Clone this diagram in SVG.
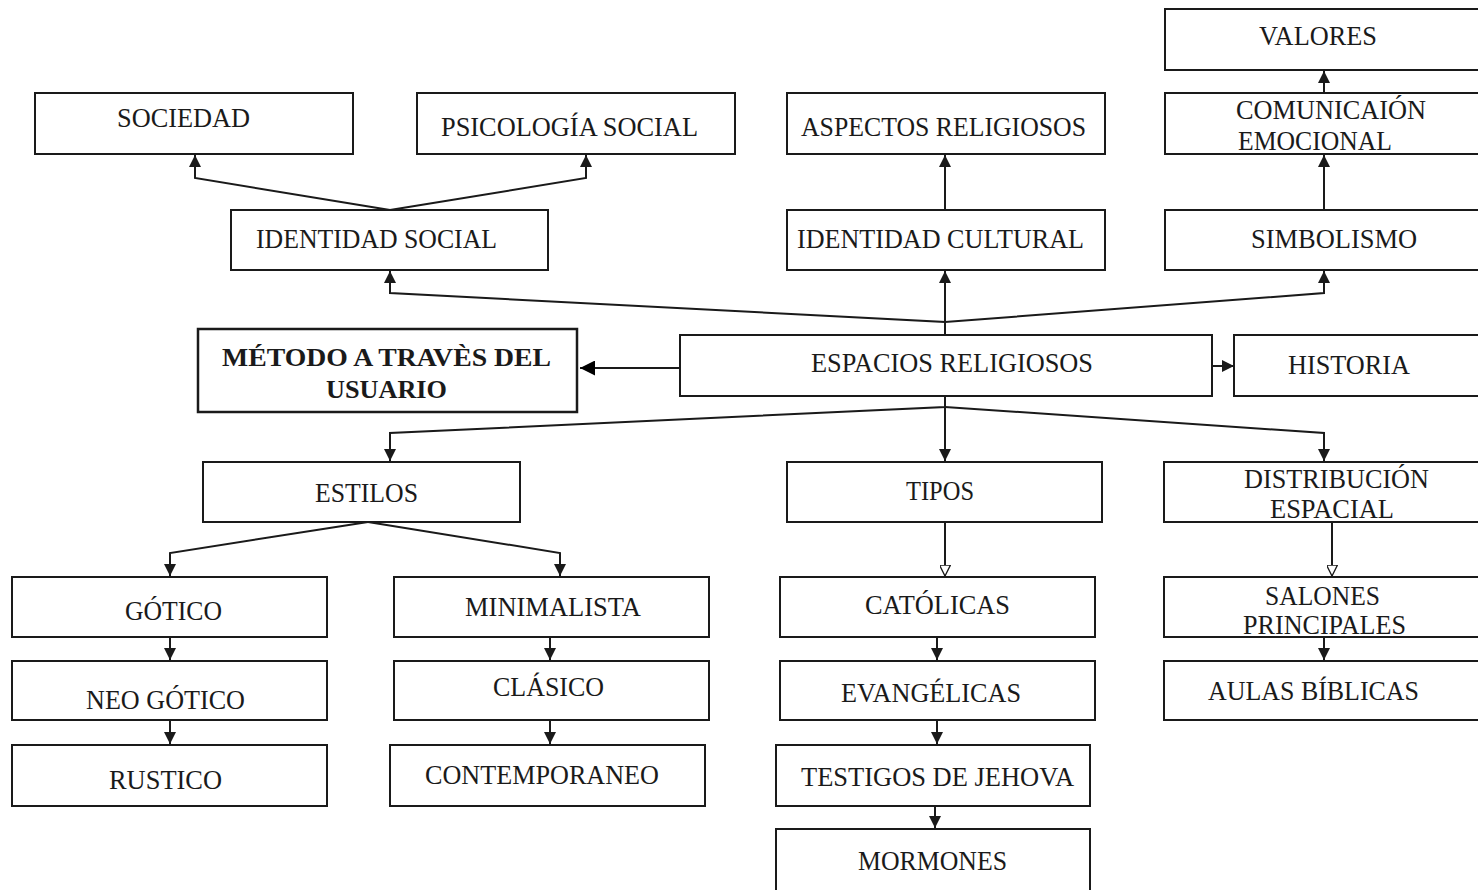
<svg xmlns="http://www.w3.org/2000/svg" width="1478" height="890" viewBox="0 0 1478 890">
<style>
.box{fill:#fff;stroke:#1a1a1a;stroke-width:2}
.bold{stroke-width:2.5}
text{font-family:"Liberation Serif","Times New Roman",serif;font-size:27px;fill:#1a1a1a}
.b{font-weight:bold;font-size:26px}
.c{fill:none;stroke:#1a1a1a;stroke-width:2}
</style>
<defs>
<marker id="a" viewBox="0 0 10 10" refX="10" refY="5" markerWidth="12" markerHeight="12" markerUnits="userSpaceOnUse" orient="auto"><path d="M0,0 L10,5 L0,10 z" fill="#1a1a1a"/></marker>
<marker id="h" viewBox="0 0 10 10" refX="10" refY="5" markerWidth="11" markerHeight="11" markerUnits="userSpaceOnUse" orient="auto"><path d="M0,0 L10,5 L0,10 z" fill="#fff" stroke="#1a1a1a" stroke-width="1.2"/></marker>
<marker id="big" viewBox="0 0 10 10" refX="10" refY="5" markerWidth="15" markerHeight="15" markerUnits="userSpaceOnUse" orient="auto"><path d="M0,0 L10,5 L0,10 z" fill="#000"/></marker>
</defs>
<rect width="1478" height="890" fill="#fff"/>
<g id="connectors">
<path class="c" d="M390,210 L195,178 L195,155" marker-end="url(#a)"/>
<path class="c" d="M390,210 L586,178 L586,155" marker-end="url(#a)"/>
<path class="c" d="M945,335 L945,322 L390,293 L390,271" marker-end="url(#a)"/>
<path class="c" d="M945,322 L945,271" marker-end="url(#a)"/>
<path class="c" d="M945,322 L1324,293 L1324,271" marker-end="url(#a)"/>
<path class="c" d="M945,210 L945,155" marker-end="url(#a)"/>
<path class="c" d="M1324,210 L1324,155" marker-end="url(#a)"/>
<path class="c" d="M1324,93 L1324,71" marker-end="url(#a)"/>
<path class="c" d="M680,368 L580,368" stroke-width="2.5" marker-end="url(#big)"/>
<path class="c" d="M1212,366 L1234,366" marker-end="url(#a)"/>
<path class="c" d="M945,396 L945,407 L390,433 L390,461" marker-end="url(#a)"/>
<path class="c" d="M945,407 L945,461" marker-end="url(#a)"/>
<path class="c" d="M945,407 L1324,433 L1324,461" marker-end="url(#a)"/>
<path class="c" d="M368,522 L170,553 L170,576" marker-end="url(#a)"/>
<path class="c" d="M368,522 L560,553 L560,576" marker-end="url(#a)"/>
<path class="c" d="M170,637 L170,660" marker-end="url(#a)"/>
<path class="c" d="M170,720 L170,744" marker-end="url(#a)"/>
<path class="c" d="M550,637 L550,660" marker-end="url(#a)"/>
<path class="c" d="M550,720 L550,744" marker-end="url(#a)"/>
<path class="c" d="M945,522 L945,576" stroke-width="1.5" marker-end="url(#h)"/>
<path class="c" d="M1332,522 L1332,576" stroke-width="1.5" marker-end="url(#h)"/>
<path class="c" d="M937,637 L937,660" marker-end="url(#a)"/>
<path class="c" d="M937,720 L937,744" marker-end="url(#a)"/>
<path class="c" d="M935,806 L935,828" marker-end="url(#a)"/>
<path class="c" d="M1324,637 L1324,660" marker-end="url(#a)"/>
</g>
<g id="n-sociedad"><rect class="box" x="35" y="93" width="318" height="61"/><text x="117" y="127" textLength="133" lengthAdjust="spacingAndGlyphs">SOCIEDAD</text></g>
<g id="n-psicologia"><rect class="box" x="417" y="93" width="318" height="61"/><text x="441" y="136" textLength="257" lengthAdjust="spacingAndGlyphs">PSICOLOGÍA SOCIAL</text></g>
<g id="n-aspectos"><rect class="box" x="787" y="93" width="318" height="61"/><text x="801" y="136" textLength="285" lengthAdjust="spacingAndGlyphs">ASPECTOS RELIGIOSOS</text></g>
<g id="n-valores"><rect class="box" x="1165" y="9" width="330" height="61"/><text x="1259" y="45" textLength="118" lengthAdjust="spacingAndGlyphs">VALORES</text></g>
<g id="n-comunicacion"><rect class="box" x="1165" y="93" width="330" height="61"/><text x="1236" y="119" textLength="190" lengthAdjust="spacingAndGlyphs">COMUNICAIÓN</text><text x="1238" y="150" textLength="154" lengthAdjust="spacingAndGlyphs">EMOCIONAL</text></g>
<g id="n-identidad-social"><rect class="box" x="231" y="210" width="317" height="60"/><text x="256" y="248" textLength="241" lengthAdjust="spacingAndGlyphs">IDENTIDAD SOCIAL</text></g>
<g id="n-identidad-cultural"><rect class="box" x="787" y="210" width="318" height="60"/><text x="797" y="248" textLength="287" lengthAdjust="spacingAndGlyphs">IDENTIDAD CULTURAL</text></g>
<g id="n-simbolismo"><rect class="box" x="1165" y="210" width="330" height="60"/><text x="1251" y="248" textLength="166" lengthAdjust="spacingAndGlyphs">SIMBOLISMO</text></g>
<g id="n-metodo"><rect class="box bold" x="198" y="329" width="379" height="83"/><text class="b" x="222" y="366" textLength="329" lengthAdjust="spacingAndGlyphs">MÉTODO A TRAVÈS  DEL</text><text class="b" x="326" y="398" textLength="121" lengthAdjust="spacingAndGlyphs">USUARIO</text></g>
<g id="n-espacios"><rect class="box" x="680" y="335" width="532" height="61"/><text x="811" y="372" textLength="282" lengthAdjust="spacingAndGlyphs">ESPACIOS RELIGIOSOS</text></g>
<g id="n-historia"><rect class="box" x="1234" y="335" width="260" height="61"/><text x="1288" y="374" textLength="122" lengthAdjust="spacingAndGlyphs">HISTORIA</text></g>
<g id="n-estilos"><rect class="box" x="203" y="462" width="317" height="60"/><text x="315" y="502" textLength="103" lengthAdjust="spacingAndGlyphs">ESTILOS</text></g>
<g id="n-tipos"><rect class="box" x="787" y="462" width="315" height="60"/><text x="906" y="500" textLength="68" lengthAdjust="spacingAndGlyphs">TIPOS</text></g>
<g id="n-distribucion"><rect class="box" x="1164" y="462" width="330" height="60"/><text x="1244" y="488" textLength="185" lengthAdjust="spacingAndGlyphs">DISTRIBUCIÓN</text><text x="1270" y="518" textLength="124" lengthAdjust="spacingAndGlyphs">ESPACIAL</text></g>
<g id="n-gotico"><rect class="box" x="12" y="577" width="315" height="60"/><text x="125" y="620" textLength="97" lengthAdjust="spacingAndGlyphs">GÓTICO</text></g>
<g id="n-minimalista"><rect class="box" x="394" y="577" width="315" height="60"/><text x="465" y="616" textLength="176" lengthAdjust="spacingAndGlyphs">MINIMALISTA</text></g>
<g id="n-catolicas"><rect class="box" x="780" y="577" width="315" height="60"/><text x="865" y="614" textLength="145" lengthAdjust="spacingAndGlyphs">CATÓLICAS</text></g>
<g id="n-salones"><rect class="box" x="1164" y="577" width="330" height="60"/><text x="1265" y="605" textLength="115" lengthAdjust="spacingAndGlyphs">SALONES</text><text x="1243" y="634" textLength="163" lengthAdjust="spacingAndGlyphs">PRINCIPALES</text></g>
<g id="n-neogotico"><rect class="box" x="12" y="661" width="315" height="59"/><text x="86" y="709" textLength="159" lengthAdjust="spacingAndGlyphs">NEO GÓTICO</text></g>
<g id="n-clasico"><rect class="box" x="394" y="661" width="315" height="59"/><text x="493" y="696" textLength="111" lengthAdjust="spacingAndGlyphs">CLÁSICO</text></g>
<g id="n-evangelicas"><rect class="box" x="780" y="661" width="315" height="59"/><text x="841" y="702" textLength="180" lengthAdjust="spacingAndGlyphs">EVANGÉLICAS</text></g>
<g id="n-aulas"><rect class="box" x="1164" y="661" width="330" height="59"/><text x="1208" y="700" textLength="211" lengthAdjust="spacingAndGlyphs">AULAS BÍBLICAS</text></g>
<g id="n-rustico"><rect class="box" x="12" y="745" width="315" height="61"/><text x="109" y="789" textLength="113" lengthAdjust="spacingAndGlyphs">RUSTICO</text></g>
<g id="n-contemporaneo"><rect class="box" x="390" y="745" width="315" height="61"/><text x="425" y="784" textLength="234" lengthAdjust="spacingAndGlyphs">CONTEMPORANEO</text></g>
<g id="n-testigos"><rect class="box" x="776" y="745" width="314" height="61"/><text x="801" y="786" textLength="273" lengthAdjust="spacingAndGlyphs">TESTIGOS DE JEHOVA</text></g>
<g id="n-mormones"><rect class="box" x="776" y="829" width="314" height="70"/><text x="858" y="870" textLength="149" lengthAdjust="spacingAndGlyphs">MORMONES</text></g>
</svg>
